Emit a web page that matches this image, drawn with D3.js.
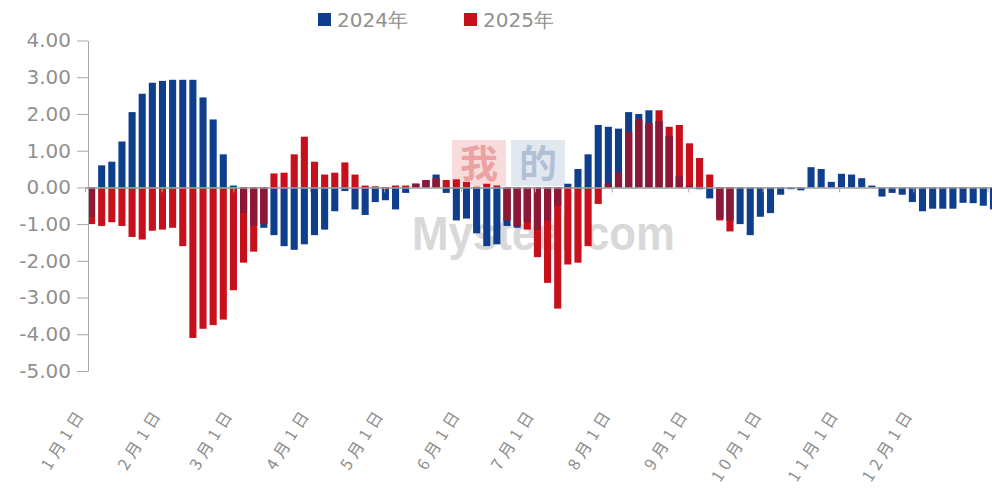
<!DOCTYPE html>
<html>
<head>
<meta charset="utf-8">
<script src="https://cdn.jsdelivr.net/npm/d3@7"></script>
<style>
  body { margin: 0; background: #fff; }
  svg { display: block; }
</style>
</head>
<body>
<svg id="chart" width="992" height="491"></svg>
<script>
// x axis: month labels and the day of year they sit on
var monthLabels = ['1月1日', '2月1日', '3月1日', '4月1日', '5月1日', '6月1日',
                   '7月1日', '8月1日', '9月1日', '10月1日', '11月1日', '12月1日'];
var monthDays = [0, 31, 60, 91, 121, 152, 182, 213, 244, 274, 305, 335];
var yTicks = [-5, -4, -3, -2, -1, 0, 1, 2, 3, 4];
var seriesNames = ['2024年', '2025年'];

// values, one per ~4 day block
var v2024 = [-0.8, 0.6, 0.7, 1.25, 2.05, 2.55, 2.85, 2.9, 2.93, 2.93,
             2.93, 2.45, 1.85, 0.9, 0.05, -0.7, -1.05, -1.1, -1.3, -1.6,
             -1.7, -1.55, -1.3, -1.15, -0.65, -0.1, -0.6, -0.75, -0.4, -0.35,
             -0.6, -0.15, 0.1, 0.2, 0.35, -0.15, -0.9, -0.85, -1.25, -1.6,
             -1.55, -1.05, -1.1, -0.95, -1.15, -0.9, -0.5, 0.1, 0.5, 0.9,
             1.7, 1.65, 1.6, 2.05, 2.0, 2.1, 1.8, 1.4, 0.3, 0.05,
             -0.05, -0.3, -0.85, -0.9, -1.0, -1.3, -0.8, -0.7, -0.2, -0.05,
             -0.08, 0.55, 0.5, 0.15, 0.37, 0.35, 0.25, 0.05, -0.25, -0.15,
             -0.2, -0.4, -0.65, -0.58, -0.58, -0.58, -0.42, -0.43, -0.5, -0.6];
var v2025 = [-1.0, -1.05, -0.95, -1.05, -1.35, -1.42, -1.18, -1.15, -1.1, -1.6,
             -4.1, -3.85, -3.75, -3.6, -2.8, -2.05, -1.75, -1.0, 0.38, 0.4,
             0.9, 1.38, 0.7, 0.35, 0.4, 0.68, 0.35, 0.05, 0.03, -0.05,
             0.05, 0.05, 0.1, 0.2, 0.25, 0.2, 0.22, 0.15, 0.02, 0.1,
             0.05, -0.9, -1.05, -1.15, -1.9, -2.6, -3.3, -2.1, -2.05, -1.6,
             -0.45, 0.1, 0.4, 1.5, 1.85, 1.75, 2.1, 1.65, 1.7, 1.2,
             0.8, 0.35, -0.9, -1.2];

var blue = '#0f3f8c';
var red = '#c8101c';
var mixed = '#7a1a40';
var grey = '#909090';

var svg = d3.select('#chart');

// scales
var xDay = d3.scaleLinear().domain([0, 366]).range([85, 990]);
var xBlk = d3.scaleBand().domain(d3.range(v2024.length)).range([88, 997]).paddingInner(0.3);
var y = d3.scaleLinear().domain([-5, 4]).range([371, 40.5]);

// watermark
var wm = svg.append('g');
wm.append('rect').attr('x', 452).attr('y', 140).attr('width', 54).attr('height', 46)
  .attr('fill', '#f4c4c4').attr('opacity', 0.6);
wm.append('rect').attr('x', 511).attr('y', 140).attr('width', 54).attr('height', 46)
  .attr('fill', '#cfd8e6').attr('opacity', 0.6);
wm.append('text').attr('x', 479).attr('y', 177).attr('text-anchor', 'middle')
  .style('font', 'bold 38px "Noto Sans CJK SC"').attr('fill', '#e88a8a').attr('opacity', 0.7).text('我');
wm.append('text').attr('x', 538).attr('y', 177).attr('text-anchor', 'middle')
  .style('font', 'bold 38px "Noto Sans CJK SC"').attr('fill', '#9fb0cc').attr('opacity', 0.7).text('的');
wm.append('text').attr('x', 412).attr('y', 250)
  .attr('textLength', 263).attr('lengthAdjust', 'spacingAndGlyphs')
  .style('font', 'bold 48px "Liberation Sans"').attr('fill', '#d0d0d0').attr('opacity', 0.8)
  .text('Mysteel.com');

function barTop(v) { return v >= 0 ? y(v) : y(0); }
function barH(v) { return Math.abs(y(v) - y(0)); }

// 2024 bars
svg.append('g').selectAll('rect').data(v2024).enter().append('rect')
  .attr('x', function (d, i) { return xBlk(i); })
  .attr('width', xBlk.bandwidth())
  .attr('y', function (d) { return barTop(d); })
  .attr('height', function (d) { return barH(d); })
  .attr('fill', blue);

// 2025 bars
svg.append('g').selectAll('rect').data(v2025).enter().append('rect')
  .attr('x', function (d, i) { return xBlk(i); })
  .attr('width', xBlk.bandwidth())
  .attr('y', function (d) { return barTop(d); })
  .attr('height', function (d) { return barH(d); })
  .attr('fill', red);

// where both years point the same way the colours mix
var overlap = v2025.map(function (r, i) {
  var b = v2024[i];
  if (r * b <= 0) return 0;
  return r > 0 ? Math.min(r, b) : Math.max(r, b);
});
svg.append('g').selectAll('rect').data(overlap).enter().append('rect')
  .attr('x', function (d, i) { return xBlk(i); })
  .attr('width', xBlk.bandwidth())
  .attr('y', function (d) { return barTop(d); })
  .attr('height', function (d) { return barH(d); })
  .attr('fill', mixed).attr('opacity', 0.75);

// y axis
var gy = svg.append('g').attr('transform', 'translate(88,0)')
  .call(d3.axisLeft(y).tickValues(yTicks)
    .tickFormat(function (d) { return d.toFixed(2); })
    .tickSize(11).tickSizeOuter(0).tickPadding(6));
gy.selectAll('path, line').attr('stroke', '#a8a8a8');
gy.selectAll('text').style('font', '20px "DejaVu Sans"').attr('fill', grey);

// zero line with month ticks
var gx = svg.append('g').attr('transform', 'translate(0,' + y(0) + ')')
  .call(d3.axisBottom(xDay).tickValues(monthDays.concat([365]))
    .tickSize(5).tickSizeOuter(0).tickFormat(''));
gx.select('.domain').attr('stroke', '#9a9a9a').attr('stroke-width', 1.5);
gx.selectAll('line').attr('stroke', '#a8a8a8');

// month labels under the plot
svg.append('g').selectAll('text').data(monthDays).enter().append('text')
  .attr('transform', function (d) { return 'translate(' + (xDay(d) + 2) + ',412) rotate(-58)'; })
  .attr('text-anchor', 'end')
  .style('font', '16px "Noto Sans CJK SC"').style('letter-spacing', '5px')
  .attr('fill', '#8c8c8c')
  .text(function (d, i) { return monthLabels[i]; });

// legend
var lg = svg.append('g').selectAll('g').data(seriesNames).enter().append('g')
  .attr('transform', function (d, i) { return 'translate(' + (318 + i * 146) + ',13)'; });
lg.append('rect').attr('width', 13).attr('height', 13)
  .attr('fill', function (d, i) { return i === 0 ? blue : red; });
lg.append('text').attr('x', 19).attr('y', 14)
  .style('font', '20px "DejaVu Sans"').attr('fill', grey)
  .text(function (d) { return d; });
</script>
</body>
</html>
